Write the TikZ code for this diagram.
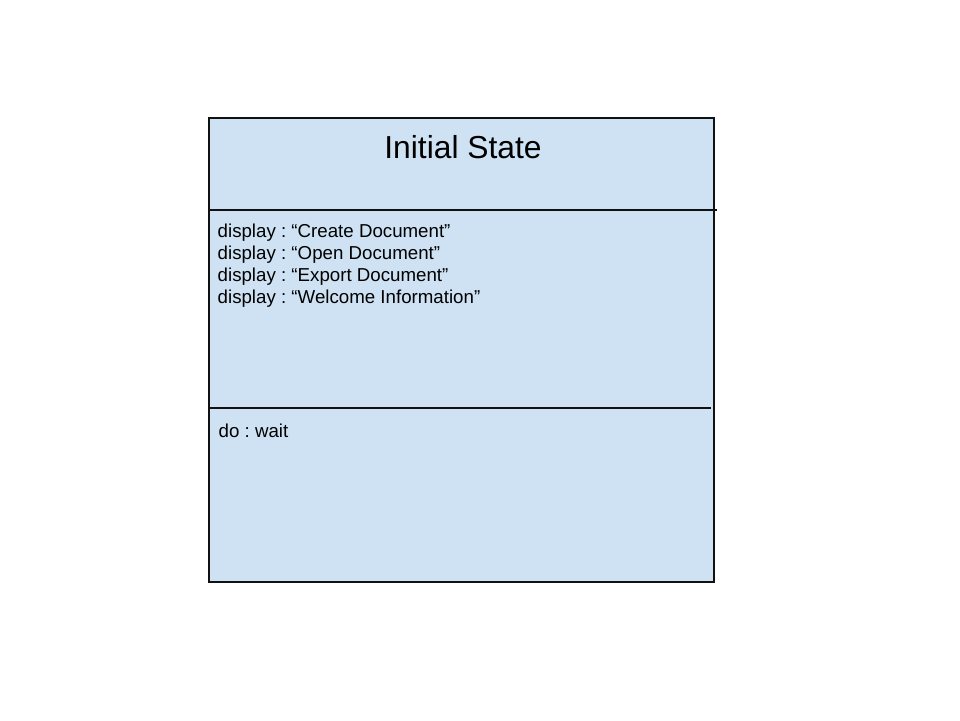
\documentclass[tikz,border=0pt]{standalone}
\usepackage{fontspec}
\setmainfont{Liberation Sans}
\frenchspacing
\definecolor{boxfill}{HTML}{CFE2F3}
\definecolor{boxline}{HTML}{111111}
\tikzset{
  statebox/.style={draw=boxline, fill=boxfill, line width=2pt},
  divider/.style={draw=boxline, line width=2pt},
  titletext/.style={font=\fontsize{31.8}{38}\selectfont, inner sep=0pt, anchor=base},
  bodytext/.style={font=\fontsize{18.7}{22}\selectfont, inner sep=0pt, anchor=base west},
}
\begin{document}
\begin{tikzpicture}[x=1pt,y=-1pt]
\useasboundingbox (0,0) rectangle (960,720);
\fill[white] (0,0) rectangle (960,720);
\draw[statebox] (208.5,117.5) rectangle (714,581.5);
\coordinate (d1l) at (208.5,210);
\coordinate (d1r) at (716.5,210);
\coordinate (d2l) at (208.5,408);
\coordinate (d2r) at (711,408);
\draw[divider] (d1l) -- (d1r);
\draw[divider] (d2l) -- (d2r);
\node[titletext] (title) at (463,158.5) {Initial State};
\node[bodytext] (l1) at (217.5,237) {display : “Create Document”};
\node[bodytext] (l2) at (217.5,259) {display : “Open Document”};
\node[bodytext] (l3) at (217.5,281) {display : “Export Document”};
\node[bodytext] (l4) at (217.5,303) {display : “Welcome Information”};
\node[bodytext] (do) at (218.5,437) {do : wait};
\end{tikzpicture}
\end{document}
